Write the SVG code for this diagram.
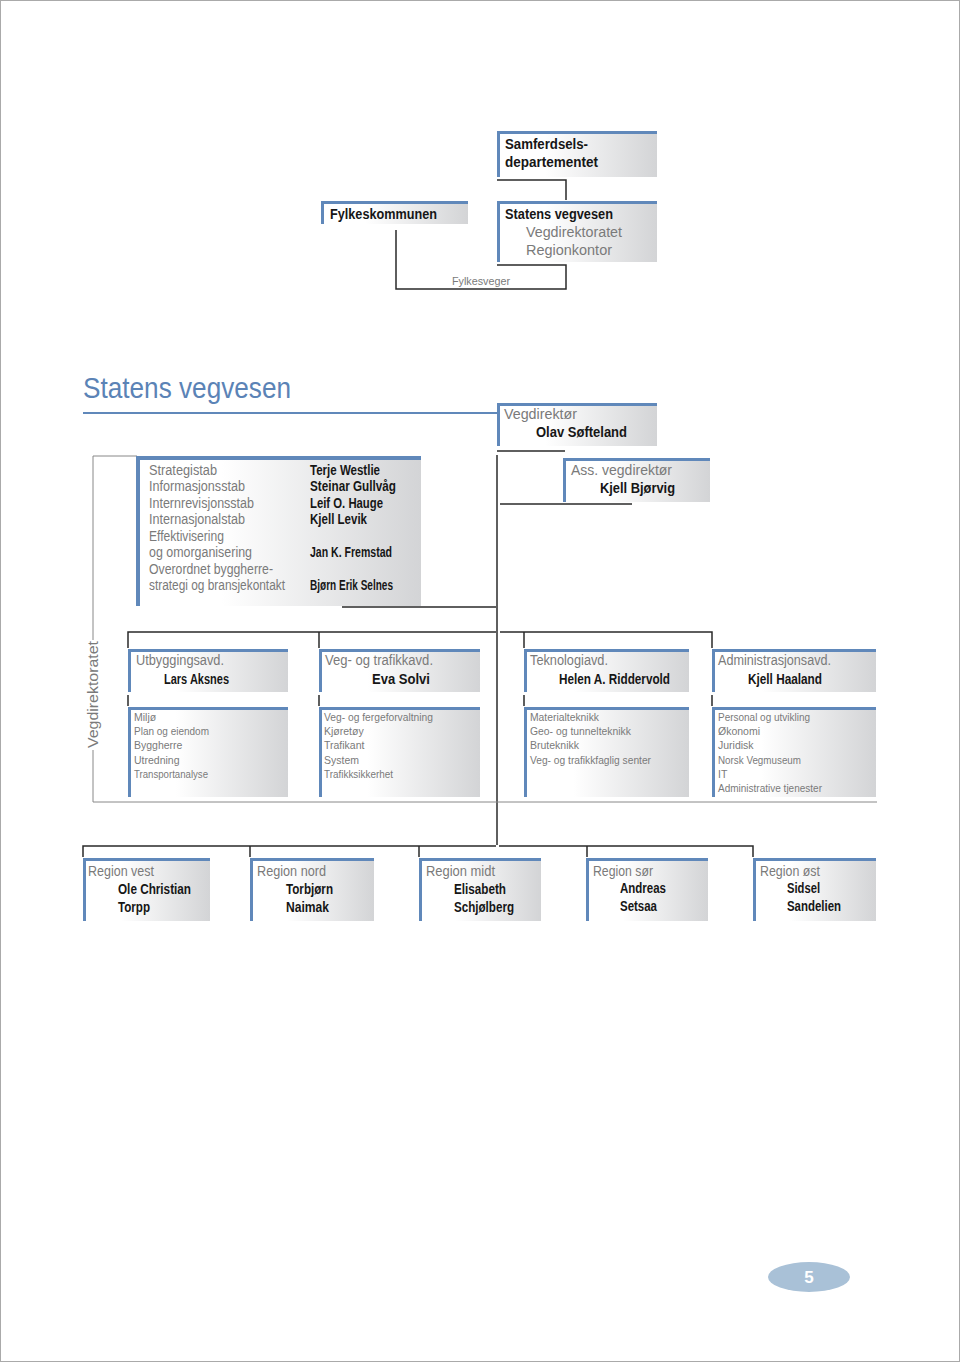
<svg xmlns="http://www.w3.org/2000/svg" width="960" height="1362" viewBox="0 0 960 1362">
<defs>
<linearGradient id="g" x1="0" y1="0" x2="1" y2="0">
<stop offset="0" stop-color="#ffffff"/>
<stop offset="0.3" stop-color="#ffffff"/>
<stop offset="1" stop-color="#d3d4d6"/>
</linearGradient>
<style>
.bx{fill:url(#g)}
.bl{stroke:#6088ba;stroke-width:3;fill:none}
.ln{stroke:#2a2a2a;stroke-width:1.5;fill:none}
.gl{stroke:#888;stroke-width:1;fill:none}
text{font-family:"Liberation Sans","Open Sans",sans-serif}
.b{font-weight:bold;fill:#161616;font-size:14px}
.g{fill:#7a7a7a;font-size:14px}
.s{fill:#7a7a7a;font-size:10.5px}
.f{fill:#7a7a7a;font-size:11px}
</style>
</defs>
<rect x="0.5" y="0.5" width="959" height="1361" fill="#fff" stroke="#aaa" stroke-width="1"/>

<g id="connectors">
<path class="ln" d="M497 180H566V200"/>
<path class="ln" d="M497 265H566V289H396V230"/>
<path class="ln" d="M497 451H565"/>
<path class="ln" d="M497 455V845"/>
<path class="ln" d="M500 504H632"/>
<path class="ln" d="M342 607H496"/>
<path class="ln" d="M128 648V632H496"/>
<path class="ln" d="M319 632V648"/>
<path class="ln" d="M500 632H712V648"/>
<path class="ln" d="M524 632V648"/>
<path class="ln" d="M128 695V706M319 695V706M524 695V706M712 695V706"/>
<path class="ln" d="M83 857V846H496"/>
<path class="ln" d="M499 846H753V857"/>
<path class="ln" d="M250 846V857M419 846V857M587 846V857"/>
<path class="gl" d="M137 456H93V640M93 750V802H877"/>
<path stroke="#6088ba" stroke-width="2" fill="none" d="M83 413H497"/>
</g>

<g id="samferdsel">
<rect class="bx" x="497" y="131" width="160" height="46"/>
<path class="bl" d="M498.5 177V132.5H657"/>
<text class="b" x="505" y="149" textLength="83" lengthAdjust="spacingAndGlyphs">Samferdsels-</text>
<text class="b" x="505" y="167" textLength="93" lengthAdjust="spacingAndGlyphs">departementet</text>
</g>

<g id="statensvegvesen">
<rect class="bx" x="497" y="201" width="160" height="61"/>
<path class="bl" d="M498.5 262V202.5H657"/>
<text class="b" x="505" y="219" textLength="108" lengthAdjust="spacingAndGlyphs">Statens vegvesen</text>
<text class="g" x="526" y="237" textLength="96" lengthAdjust="spacingAndGlyphs">Vegdirektoratet</text>
<text class="g" x="526" y="255" textLength="86" lengthAdjust="spacingAndGlyphs">Regionkontor</text>
</g>

<g id="fylkeskommunen">
<rect class="bx" x="321" y="201" width="147" height="23"/>
<path class="bl" d="M322.5 224V202.5H468"/>
<text class="b" x="330" y="219" textLength="107" lengthAdjust="spacingAndGlyphs">Fylkeskommunen</text>
</g>

<text class="f" x="452" y="285" textLength="58" lengthAdjust="spacingAndGlyphs">Fylkesveger</text>

<text x="83" y="398" font-size="30" fill="#5b83b6" textLength="208" lengthAdjust="spacingAndGlyphs">Statens vegvesen</text>

<g id="vegdirektor">
<rect class="bx" x="497" y="403" width="160" height="43"/>
<path class="bl" d="M498.5 446V404.5H657"/>
<text class="g" x="504" y="419" textLength="73" lengthAdjust="spacingAndGlyphs">Vegdirektør</text>
<text class="b" x="536" y="437" textLength="91" lengthAdjust="spacingAndGlyphs">Olav Søfteland</text>
</g>

<g id="assvegdirektor">
<rect class="bx" x="563" y="458" width="147" height="44"/>
<path class="bl" d="M564.5 502V459.5H710"/>
<text class="g" x="571" y="475" textLength="101" lengthAdjust="spacingAndGlyphs">Ass. vegdirektør</text>
<text class="b" x="600" y="493" textLength="75" lengthAdjust="spacingAndGlyphs">Kjell Bjørvig</text>
</g>

<g id="stab">
<rect class="bx" x="136" y="456" width="285" height="150"/>
<path stroke="#6088ba" stroke-width="4" fill="none" d="M138 606V458H421"/>
<text class="g" x="149" y="475" textLength="68" lengthAdjust="spacingAndGlyphs">Strategistab</text>
<text class="g" x="149" y="491" textLength="96" lengthAdjust="spacingAndGlyphs">Informasjonsstab</text>
<text class="g" x="149" y="508" textLength="105" lengthAdjust="spacingAndGlyphs">Internrevisjonsstab</text>
<text class="g" x="149" y="524" textLength="96" lengthAdjust="spacingAndGlyphs">Internasjonalstab</text>
<text class="g" x="149" y="541" textLength="75" lengthAdjust="spacingAndGlyphs">Effektivisering</text>
<text class="g" x="149" y="557" textLength="103" lengthAdjust="spacingAndGlyphs">og omorganisering</text>
<text class="g" x="149" y="574" textLength="124" lengthAdjust="spacingAndGlyphs">Overordnet byggherre-</text>
<text class="g" x="149" y="590" textLength="136" lengthAdjust="spacingAndGlyphs">strategi og bransjekontakt</text>
<text class="b" x="310" y="475" font-size="13" textLength="70" lengthAdjust="spacingAndGlyphs">Terje Westlie</text>
<text class="b" x="310" y="491" font-size="13" textLength="86" lengthAdjust="spacingAndGlyphs">Steinar Gullvåg</text>
<text class="b" x="310" y="508" font-size="13" textLength="73" lengthAdjust="spacingAndGlyphs">Leif O. Hauge</text>
<text class="b" x="310" y="524" font-size="13" textLength="57" lengthAdjust="spacingAndGlyphs">Kjell Levik</text>
<text class="b" x="310" y="557" font-size="13" textLength="82" lengthAdjust="spacingAndGlyphs">Jan K. Fremstad</text>
<text class="b" x="310" y="590" font-size="13" textLength="83" lengthAdjust="spacingAndGlyphs">Bjørn Erik Selnes</text>
</g>

<text x="0" y="0" transform="translate(98 748) rotate(-90)" font-size="15" fill="#7a7a7a" textLength="107" lengthAdjust="spacingAndGlyphs">Vegdirektoratet</text>

<g id="utbygging">
<rect class="bx" x="128" y="649" width="160" height="43"/>
<path class="bl" d="M129.5 692V650.5H288"/>
<text class="g" x="136" y="665" textLength="88" lengthAdjust="spacingAndGlyphs">Utbyggingsavd.</text>
<text class="b" x="164" y="684" textLength="65" lengthAdjust="spacingAndGlyphs">Lars Aksnes</text>
</g>
<g id="utbygging-sub">
<rect class="bx" x="128" y="707" width="160" height="90"/>
<path class="bl" d="M129.5 797V708.5H288"/>
<text class="s" x="134" y="721">Miljø</text>
<text class="s" x="134" y="735" textLength="75" lengthAdjust="spacingAndGlyphs">Plan og eiendom</text>
<text class="s" x="134" y="749">Byggherre</text>
<text class="s" x="134" y="764">Utredning</text>
<text class="s" x="134" y="778" textLength="74" lengthAdjust="spacingAndGlyphs">Transportanalyse</text>
</g>

<g id="vegtrafikk">
<rect class="bx" x="319" y="649" width="161" height="43"/>
<path class="bl" d="M320.5 692V650.5H480"/>
<text class="g" x="325" y="665" textLength="108" lengthAdjust="spacingAndGlyphs">Veg- og trafikkavd.</text>
<text class="b" x="372" y="684" textLength="58" lengthAdjust="spacingAndGlyphs">Eva Solvi</text>
</g>
<g id="vegtrafikk-sub">
<rect class="bx" x="319" y="707" width="161" height="90"/>
<path class="bl" d="M320.5 797V708.5H480"/>
<text class="s" x="324" y="721" textLength="109" lengthAdjust="spacingAndGlyphs">Veg- og fergeforvaltning</text>
<text class="s" x="324" y="735">Kjøretøy</text>
<text class="s" x="324" y="749">Trafikant</text>
<text class="s" x="324" y="764">System</text>
<text class="s" x="324" y="778" textLength="69" lengthAdjust="spacingAndGlyphs">Trafikksikkerhet</text>
</g>

<g id="teknologi">
<rect class="bx" x="524" y="649" width="165" height="43"/>
<path class="bl" d="M525.5 692V650.5H689"/>
<text class="g" x="530" y="665" textLength="78" lengthAdjust="spacingAndGlyphs">Teknologiavd.</text>
<text class="b" x="559" y="684" textLength="111" lengthAdjust="spacingAndGlyphs">Helen A. Riddervold</text>
</g>
<g id="teknologi-sub">
<rect class="bx" x="524" y="707" width="165" height="90"/>
<path class="bl" d="M525.5 797V708.5H689"/>
<text class="s" x="530" y="721" textLength="69" lengthAdjust="spacingAndGlyphs">Materialteknikk</text>
<text class="s" x="530" y="735" textLength="101" lengthAdjust="spacingAndGlyphs">Geo- og tunnelteknikk</text>
<text class="s" x="530" y="749">Bruteknikk</text>
<text class="s" x="530" y="764" textLength="121" lengthAdjust="spacingAndGlyphs">Veg- og trafikkfaglig senter</text>
</g>

<g id="administrasjon">
<rect class="bx" x="712" y="649" width="164" height="43"/>
<path class="bl" d="M713.5 692V650.5H876"/>
<text class="g" x="718" y="665" textLength="113" lengthAdjust="spacingAndGlyphs">Administrasjonsavd.</text>
<text class="b" x="748" y="684" textLength="74" lengthAdjust="spacingAndGlyphs">Kjell Haaland</text>
</g>
<g id="administrasjon-sub">
<rect class="bx" x="712" y="707" width="164" height="90"/>
<path class="bl" d="M713.5 797V708.5H876"/>
<text class="s" x="718" y="721" textLength="92" lengthAdjust="spacingAndGlyphs">Personal og utvikling</text>
<text class="s" x="718" y="735">Økonomi</text>
<text class="s" x="718" y="749">Juridisk</text>
<text class="s" x="718" y="764" textLength="83" lengthAdjust="spacingAndGlyphs">Norsk Vegmuseum</text>
<text class="s" x="718" y="778">IT</text>
<text class="s" x="718" y="792" textLength="104" lengthAdjust="spacingAndGlyphs">Administrative tjenester</text>
</g>

<g id="region-vest">
<rect class="bx" x="83" y="858" width="127" height="63"/>
<path class="bl" d="M84.5 921V859.5H210"/>
<text class="g" x="88" y="876" textLength="66" lengthAdjust="spacingAndGlyphs">Region vest</text>
<text class="b" x="118" y="894" textLength="73" lengthAdjust="spacingAndGlyphs">Ole Christian</text>
<text class="b" x="118" y="912" textLength="32" lengthAdjust="spacingAndGlyphs">Torpp</text>
</g>
<g id="region-nord">
<rect class="bx" x="250" y="858" width="124" height="63"/>
<path class="bl" d="M251.5 921V859.5H374"/>
<text class="g" x="257" y="876" textLength="69" lengthAdjust="spacingAndGlyphs">Region nord</text>
<text class="b" x="286" y="894" textLength="47" lengthAdjust="spacingAndGlyphs">Torbjørn</text>
<text class="b" x="286" y="912" textLength="43" lengthAdjust="spacingAndGlyphs">Naimak</text>
</g>
<g id="region-midt">
<rect class="bx" x="419" y="858" width="122" height="63"/>
<path class="bl" d="M420.5 921V859.5H541"/>
<text class="g" x="426" y="876" textLength="69" lengthAdjust="spacingAndGlyphs">Region midt</text>
<text class="b" x="454" y="894" textLength="52" lengthAdjust="spacingAndGlyphs">Elisabeth</text>
<text class="b" x="454" y="912" textLength="60" lengthAdjust="spacingAndGlyphs">Schjølberg</text>
</g>
<g id="region-sor">
<rect class="bx" x="586" y="858" width="122" height="63"/>
<path class="bl" d="M587.5 921V859.5H708"/>
<text class="g" x="593" y="876" textLength="60" lengthAdjust="spacingAndGlyphs">Region sør</text>
<text class="b" x="620" y="893" textLength="46" lengthAdjust="spacingAndGlyphs">Andreas</text>
<text class="b" x="620" y="911" textLength="37" lengthAdjust="spacingAndGlyphs">Setsaa</text>
</g>
<g id="region-ost">
<rect class="bx" x="753" y="858" width="123" height="63"/>
<path class="bl" d="M754.5 921V859.5H876"/>
<text class="g" x="760" y="876" textLength="60" lengthAdjust="spacingAndGlyphs">Region øst</text>
<text class="b" x="787" y="893" textLength="33" lengthAdjust="spacingAndGlyphs">Sidsel</text>
<text class="b" x="787" y="911" textLength="54" lengthAdjust="spacingAndGlyphs">Sandelien</text>
</g>

<g id="pagenumber">
<ellipse cx="809" cy="1277" rx="41" ry="15" fill="#a9c1d7"/>
<text x="809" y="1283" text-anchor="middle" font-size="17" font-weight="bold" fill="#fff">5</text>
</g>
</svg>
